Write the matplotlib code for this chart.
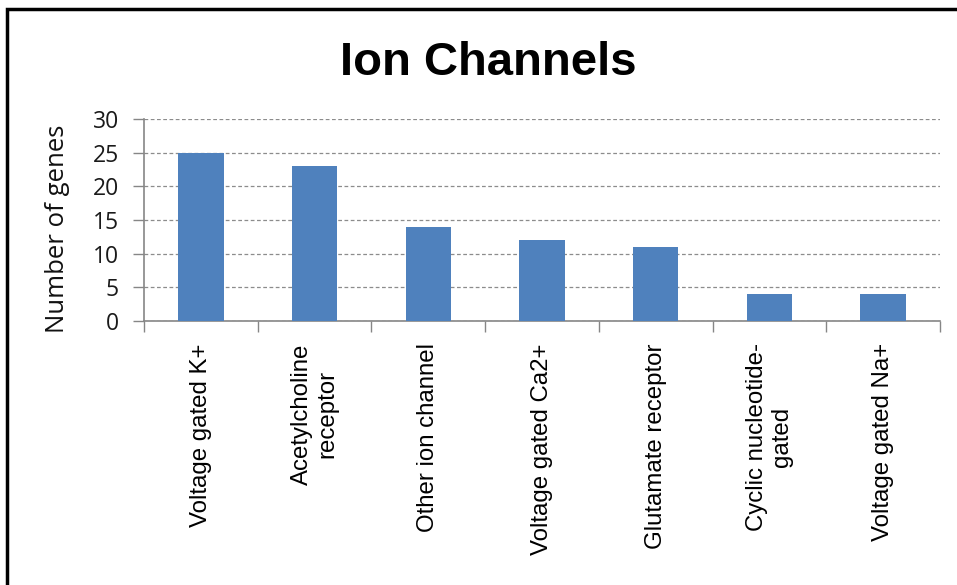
import matplotlib
matplotlib.use("Agg")
import matplotlib.pyplot as plt
from matplotlib.patches import Rectangle

categories = ["Voltage gated K+", "Acetylcholine\nreceptor", "Other ion channel",
              "Voltage gated Ca2+", "Glutamate receptor", "Cyclic nucleotide-\ngated",
              "Voltage gated Na+"]
values = [25, 23, 14, 12, 11, 4, 4]
yticks = [0, 5, 10, 15, 20, 25, 30]

W, H = 957, 585
fig = plt.figure(figsize=(W / 100, H / 100), dpi=100)
fig.patch.set_facecolor("white")

# outer chart border
fig.patches.append(Rectangle((7 / W, -0.1), 1.2, 1.1 - 9 / H, transform=fig.transFigure,
                             fill=False, edgecolor="black", linewidth=2.5, zorder=10))

ax = fig.add_axes([144 / W, 1 - 321 / H, (940 - 144) / W, (321 - 119) / H])
x = list(range(len(categories)))
ax.bar(x, values, width=0.4, color="#4F81BD", zorder=3)
ax.set_xlim(-0.5, len(categories) - 0.5)
ax.set_ylim(0, 30)
ax.set_yticks(yticks)
ax.set_yticklabels([str(v) for v in yticks], fontfamily="Open Sans", fontsize=16.5, color="#1a1a1a")
ax.yaxis.grid(True, linestyle=(0, (3, 2)), color="#8c8c8c", linewidth=0.9, zorder=0)
ax.tick_params(axis="y", length=8, width=1, color="#868686", pad=10)

ax.set_xticks(x)
ax.set_xticklabels(categories, rotation=90, fontfamily="Liberation Sans", fontsize=17.3,
                   ha="center", va="top", multialignment="center")
ax.set_xticks([i - 0.5 for i in range(len(categories) + 1)], minor=True)
ax.tick_params(axis="x", which="major", length=0, pad=16)
ax.tick_params(axis="x", which="minor", length=8, width=1, color="#868686")

for s in ["top", "right"]:
    ax.spines[s].set_visible(False)
for s in ["left", "bottom"]:
    ax.spines[s].set_color("#868686")
    ax.spines[s].set_linewidth(1.2)

fig.text(488 / W, 1 - 75 / H, "Ion Channels", ha="center", va="baseline",
         fontfamily="Liberation Sans", fontweight="bold", fontsize=34)
fig.text(57 / W, 1 - 229 / H, "Number of genes", rotation=90, ha="center", va="center",
         fontfamily="Open Sans", fontsize=18.5, color="#111111")

fig.savefig("out.png", dpi=100)
